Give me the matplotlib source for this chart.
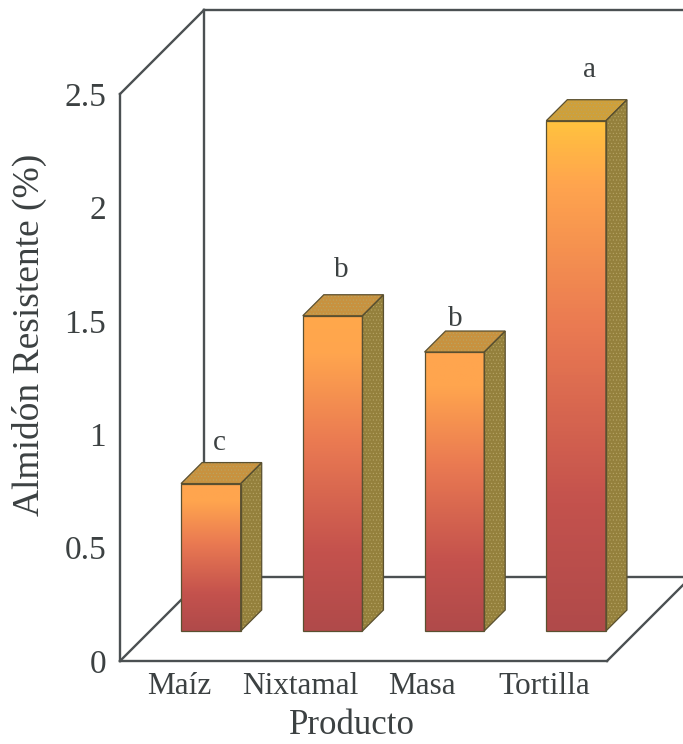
import matplotlib
matplotlib.use("Agg")
import matplotlib.pyplot as plt
import numpy as np
from matplotlib.colors import LinearSegmentedColormap
from matplotlib.patches import Polygon
from matplotlib.transforms import Affine2D

productos = ["Maíz", "Nixtamal", "Masa", "Tortilla"]
almidon = [0.65, 1.39, 1.23, 2.25]
letras = ["c", "b", "b", "a"]
yticks = [0, 0.5, 1, 1.5, 2, 2.5]
ytick_labels = ["0", "0.5", "1", "1.5", "2", "2.5"]

top_colors = ["#ffa54e", "#ffa84b", "#ffa54e", "#ffc23f"]
lid_colors = ["#c8923f", "#c8923f", "#c8923f", "#cfa03a"]
side_color = "#94803c"
stipple_color = "#b8a566"
edge_color = "#5a5030"
frame_color = "#4b5052"
text_color = "#3c4142"

letter_dx = [9, 9, 1, 13]
letter_dy = [41, 46, 33, 51]

plt.rcParams["font.family"] = ["Liberation Serif", "DejaVu Serif"]
plt.rcParams["hatch.linewidth"] = 0.4

W, H = 683, 744
fig = plt.figure(figsize=(W / 100, H / 100), dpi=100)
ax = fig.add_axes([120 / W, (H - 661) / H, 487 / W, 567 / H])
ax.set_xlim(0, 4)
ax.set_ylim(0, 2.5)

# one pixel in data units
px_x = 4 / 487
px_y = 2.5 / 567


def shifted(dx, dy):
    # pixel offset for the fake 3d depth
    return ax.transData + Affine2D().translate(dx, dy)


# frame of the box
depth = 84
back = shifted(depth, depth)
ax.plot([0, 5], [2.5, 2.5], color=frame_color, lw=1.7, transform=back, clip_on=False)
ax.plot([0, 0], [0, 2.5], color=frame_color, lw=1.7, transform=back, clip_on=False)
ax.plot([0, 5], [0, 0], color=frame_color, lw=1.7, transform=back, clip_on=False)
ax.plot([0, 0], [0, 2.5], color=frame_color, lw=1.7, clip_on=False)
ax.plot([0, 4], [0, 0], color=frame_color, lw=1.7, clip_on=False)
for xv, yv in [(0, 2.5), (0, 0), (4, 0)]:
    ax.plot([xv, xv + depth * px_x], [yv, yv + depth * px_y], color=frame_color, lw=1.7, clip_on=False)

# bars
bar_w = 0.49
front = shifted(30, 30)
dx = 21 * px_x
dy = 21 * px_y
for i, v in enumerate(almidon):
    x0 = i + 0.5 - bar_w / 2
    x1 = i + 0.5 + bar_w / 2
    cmap = LinearSegmentedColormap.from_list(
        "b", [(0, "#b04a4a"), (0.25, "#c4524d"), (0.6, "#ea7a52"), (0.88, "#ffa54e"), (1, top_colors[i])]
    )
    grad = np.linspace(1, 0, 128).reshape(-1, 1)
    ax.imshow(grad, cmap=cmap, vmin=0, vmax=1, aspect="auto", extent=(x0, x1, 0, v),
              transform=front, zorder=3, clip_on=False)
    ax.add_patch(Polygon([(x0, 0), (x1, 0), (x1, v), (x0, v)], closed=True, fill=False,
                         ec=edge_color, lw=0.9, transform=front, zorder=4, clip_on=False))
    side = [(x1, 0), (x1 + dx, dy), (x1 + dx, v + dy), (x1, v)]
    lid = [(x0, v), (x1, v), (x1 + dx, v + dy), (x0 + dx, v + dy)]
    ax.add_patch(Polygon(side, closed=True, fc=side_color, ec="none", transform=front, zorder=3, clip_on=False))
    ax.add_patch(Polygon(lid, closed=True, fc=lid_colors[i], ec="none", transform=front, zorder=3, clip_on=False))
    # stipple on the two flat faces
    ax.add_patch(Polygon(side, closed=True, fill=False, ec=stipple_color, lw=0, hatch=".....",
                         transform=front, zorder=3, clip_on=False))
    ax.add_patch(Polygon(lid, closed=True, fill=False, ec=stipple_color, lw=0, hatch=".....",
                         transform=front, zorder=3, clip_on=False))
    ax.add_patch(Polygon(side, closed=True, fill=False, ec=edge_color, lw=0.9, transform=front, zorder=4, clip_on=False))
    ax.add_patch(Polygon(lid, closed=True, fill=False, ec=edge_color, lw=0.9, transform=front, zorder=4, clip_on=False))
    ax.annotate(letras[i], xy=(i + 0.5, v), xycoords=front, xytext=(letter_dx[i] * 0.72, letter_dy[i] * 0.72),
                textcoords="offset points", ha="center", va="center", fontsize=21, color=text_color)

ax.set_xlim(0, 4)
ax.set_ylim(0, 2.5)
ax.patch.set_visible(False)
for s in ax.spines.values():
    s.set_visible(False)

ax.set_xticks([i + 0.5 for i in range(len(productos))])
ax.set_xticklabels(productos, fontsize=22.5, color=text_color)
ax.set_yticks(yticks)
ax.set_yticklabels(ytick_labels, fontsize=24, color=text_color)
ax.tick_params(axis="both", length=0)
ax.tick_params(axis="y", pad=10)
ax.tick_params(axis="x", pad=8)
for lbl in ax.get_xticklabels():
    lbl.set_transform(lbl.get_transform() + Affine2D().translate(-2, 0))

ax.set_xlabel("Producto", fontsize=25, color=text_color, va="center")
ax.xaxis.set_label_coords(0.477, -0.113)
ax.set_ylabel("Almidón Resistente (%)", fontsize=27, color=text_color, va="center")
ax.yaxis.set_label_coords(-0.185, 0.575)

fig.savefig("out.png", dpi=100)
